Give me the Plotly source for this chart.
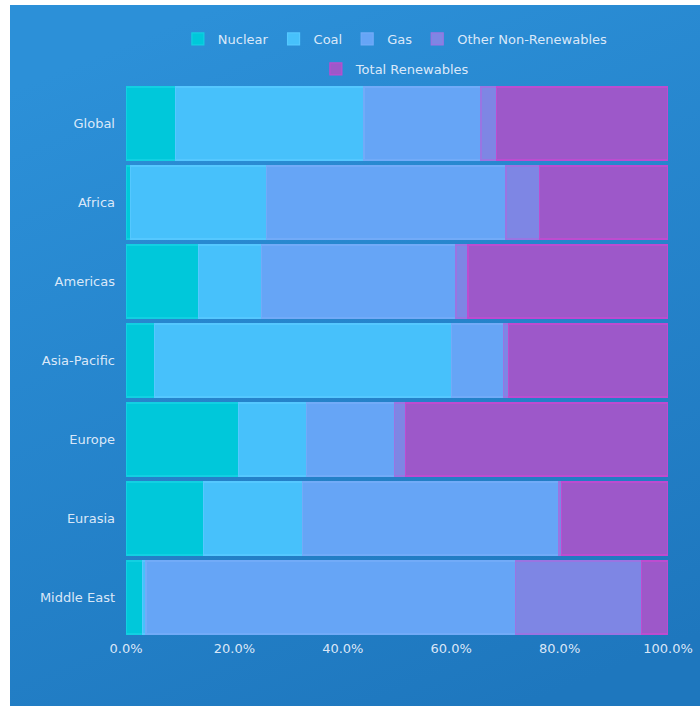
import plotly.graph_objects as go

# Electricity generation mix by region (share of total, %)
regions = ["Global", "Africa", "Americas", "Asia-Pacific", "Europe", "Eurasia", "Middle East"]
nuclear = [9.1, 0.9, 13.4, 5.2, 20.8, 14.3, 3.1]
coal = [34.8, 25.0, 11.6, 54.8, 12.5, 18.3, 0.6]
gas = [21.6, 44.2, 35.9, 9.7, 16.3, 47.3, 68.1]
other_non_renewables = [2.8, 6.2, 2.2, 0.9, 1.9, 0.5, 23.3]
total_renewables = [31.7, 23.7, 36.9, 29.4, 48.5, 19.6, 4.9]

x_ticks = [0, 20, 40, 60, 80, 100]
x_tick_labels = ["0.0%", "20.0%", "40.0%", "60.0%", "80.0%", "100.0%"]

series = [
    ("Nuclear", nuclear, "#00C8DA", "#12D0E2"),
    ("Coal", coal, "#47C1FB", "#55C8FF"),
    ("Gas", gas, "#66A5F6", "#72ABF8"),
    ("Other Non-Renewables", other_non_renewables, "#7E86E4", "#9A74E2"),
    ("Total Renewables", total_renewables, "#9D58C9", "#BD4CD0"),
]

TEXT = "rgba(234,242,253,0.93)"
FONT = "DejaVu Sans"
FSIZE = 13

fig = go.Figure()
for name, vals, fill, edge in series:
    fig.add_trace(go.Bar(
        y=regions, x=vals, name=name, orientation="h",
        marker=dict(color=fill, line=dict(color=edge, width=1.2)),
        legend="legend2" if name == "Total Renewables" else "legend",
    ))

# Blue gradient panel behind the chart
grad_svg = (
    "data:image/svg+xml;utf8,"
    "<svg xmlns='http://www.w3.org/2000/svg' width='100' height='100' preserveAspectRatio='none'>"
    "<defs><linearGradient id='g' x1='0.3' y1='0' x2='0.7' y2='1'>"
    "<stop offset='0' stop-color='%232C90D8'/>"
    "<stop offset='1' stop-color='%231E77BE'/>"
    "</linearGradient></defs>"
    "<rect width='100' height='100' fill='url(%23g)'/></svg>"
)

W, H = 700, 706
L, R, T, B = 126, 32, 84, 69
pw, ph = W - L - R, H - T - B

fig.add_layout_image(dict(
    source=grad_svg, xref="paper", yref="paper",
    x=(10 - L) / pw, y=1 + (T - 5) / ph,
    sizex=(W + 10 - 10) / pw, sizey=(H + 10 - 5) / ph,
    xanchor="left", yanchor="top", sizing="stretch", layer="below",
))

legend_common = dict(
    orientation="h", xref="paper", yref="paper",
    xanchor="center", yanchor="middle", traceorder="normal",
    bgcolor="rgba(0,0,0,0)", font=dict(family=FONT, size=FSIZE, color=TEXT),
    itemclick=False, itemdoubleclick=False,
)

fig.update_layout(
    width=W, height=H,
    margin=dict(l=L, r=R, t=T, b=B, autoexpand=False),
    paper_bgcolor="white",
    plot_bgcolor="rgba(0,0,0,0)",
    barmode="stack",
    barnorm="percent",
    bargap=0.076,
    font=dict(family=FONT, size=FSIZE, color=TEXT),
    legend=dict(x=0.497, y=1 + (T - 39) / ph, **legend_common),
    legend2=dict(x=0.497, y=1 + (T - 69) / ph, **legend_common),
    xaxis=dict(
        range=[0, 100], tickmode="array",
        tickvals=x_ticks, ticktext=x_tick_labels,
        showgrid=False, zeroline=False, showline=False,
        ticks="", ticklabelstandoff=2,
        tickfont=dict(family=FONT, size=FSIZE, color=TEXT),
        fixedrange=True,
    ),
    yaxis=dict(
        autorange="reversed", showgrid=False, zeroline=False,
        showline=False, ticks="", ticklabelstandoff=10,
        tickfont=dict(family=FONT, size=FSIZE, color=TEXT),
        fixedrange=True,
    ),
)

fig.write_html("out.html")
